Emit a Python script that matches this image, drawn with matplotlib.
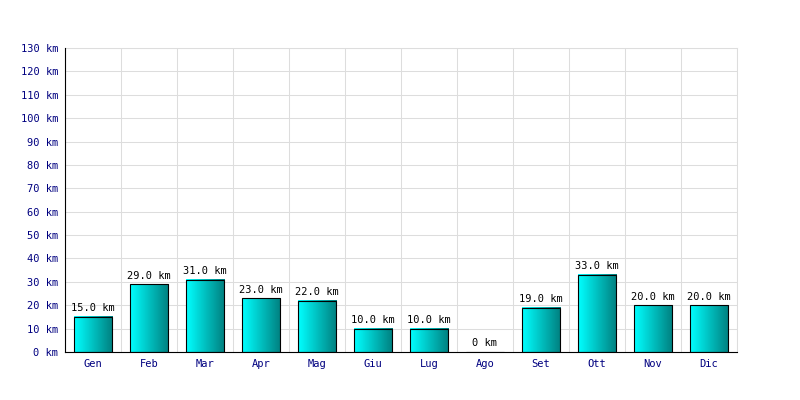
import numpy as np
import matplotlib
matplotlib.use('Agg')
import matplotlib.pyplot as plt
from matplotlib.colors import LinearSegmentedColormap

# data
months = ['Gen', 'Feb', 'Mar', 'Apr', 'Mag', 'Giu', 'Lug', 'Ago', 'Set', 'Ott', 'Nov', 'Dic']
km = [15.0, 29.0, 31.0, 23.0, 22.0, 10.0, 10.0, 0.0, 19.0, 33.0, 20.0, 20.0]
y_ticks = list(range(0, 131, 10))

plt.rcParams['font.family'] = ['DejaVu Sans Mono']

fig = plt.figure(figsize=(8, 4), dpi=100)
ax = fig.add_axes([65 / 800, 48 / 400, 672 / 800, 304 / 400])

x = np.arange(len(months))
bar_w = 0.68
cmap = LinearSegmentedColormap.from_list('cyan_grad', ['#00ffff', '#008080'])
grad = np.linspace(0, 1, 64).reshape(1, -1)

bars = ax.bar(x, km, width=bar_w, color='none', edgecolor='black', linewidth=0.8, zorder=3)
for b, v in zip(bars, km):
    if v > 0:
        x0 = b.get_x()
        ax.imshow(grad, cmap=cmap, aspect='auto', zorder=2,
                  extent=(x0, x0 + bar_w, 0, v), interpolation='bicubic')

# value labels
for xi, v in zip(x, km):
    txt = f'{v:.1f} km' if v > 0 else '0 km'
    ax.text(xi, v + 1.5, txt, ha='center', va='bottom', fontsize=7.5, color='black', zorder=4)

ax.set_xlim(-0.5, len(months) - 0.5)
ax.set_ylim(0, 130)
ax.set_yticks(y_ticks)
ax.set_yticklabels([f'{t} km' for t in y_ticks])
ax.set_xticks(x)
ax.set_xticklabels(months)
ax.tick_params(axis='both', length=0, labelsize=7.5, labelcolor='#000080', pad=5)

# vertical grid at category boundaries, horizontal at ticks
for b in np.arange(-0.5, len(months), 1.0):
    ax.axvline(b, color='#dddddd', linewidth=0.75, zorder=0)
ax.grid(axis='y', color='#dddddd', linewidth=0.75, zorder=0)
ax.set_axisbelow(True)

for s in ['top', 'right']:
    ax.spines[s].set_color('#dddddd')
    ax.spines[s].set_linewidth(0.75)
ax.spines['left'].set_color('black')
ax.spines['bottom'].set_color('black')
ax.spines['left'].set_zorder(5)
ax.spines['bottom'].set_zorder(5)

fig.savefig('out.png', dpi=100)
